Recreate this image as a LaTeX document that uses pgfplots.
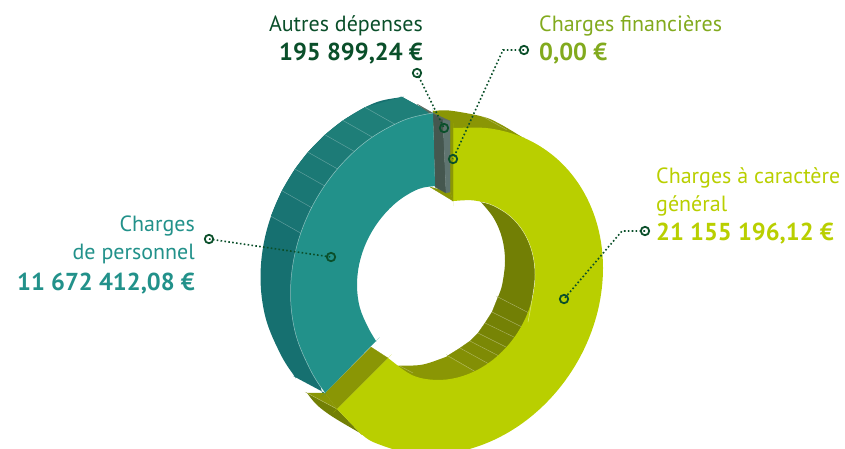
\documentclass[border=0pt]{standalone}
\usepackage{pgfplots}
\pgfplotsset{compat=1.18}
\usepackage{fontspec}
\setmainfont{PT Sans}
\definecolor{yel}{HTML}{B9CF00}
\definecolor{oliveL}{HTML}{8A9605}
\definecolor{oliveD}{HTML}{727F05}
\definecolor{teal1}{HTML}{22918A}
\definecolor{tealT}{HTML}{1F7F79}
\definecolor{tealB}{HTML}{167070}
\definecolor{dk}{HTML}{0A4F2A}
\definecolor{finc}{HTML}{82AA1E}
\definecolor{grayA}{HTML}{45574F}
\definecolor{grayB}{HTML}{5F7470}
\definecolor{grayC}{HTML}{5A6B60}
\newcommand{\poly}[2]{\addplot[fill=#1,draw=none,smooth,tension=0.6,forget plot] coordinates {#2};}
\newcommand{\quadr}[2]{\addplot[fill=#1,draw=#1,line width=0.2pt,forget plot] coordinates {#2} -- cycle;}
\newcommand{\seg}[1]{\addplot[draw=white,draw opacity=0.3,line width=0.5pt,forget plot] coordinates {#1};}
\newcommand{\edge}[1]{\addplot[draw=white,draw opacity=0.5,line width=0.5pt,smooth,tension=0.6,forget plot] coordinates {#1};}
\newcommand{\lead}[1]{\addplot[color=dk,line width=1.6pt,dash pattern=on 1.6pt off 2.3pt,forget plot] coordinates {#1};}
\newcommand{\ring}[1]{\addplot[only marks,mark=o,color=dk,mark size=4.2pt,mark options={line width=1.8pt,solid,fill=none},forget plot] coordinates {#1};}
\newcommand{\fs}{\fontsize{22}{26}\selectfont}
\newcommand{\fb}{\fontsize{24.5}{26}\selectfont\bfseries}
\newcommand{\lab}[4]{\node[anchor=base #1,inner sep=0pt,text=#2] at (axis cs:#3) {#4};}
\begin{document}
\begin{tikzpicture}[x=1pt,y=1pt]
\path[use as bounding box] (0,0) rectangle (845,448);
\begin{axis}[at={(0,0)},anchor=south west,scale only axis,width=845pt,height=448pt,
  xmin=0,xmax=845,ymin=0,ymax=448,y dir=reverse,hide axis,clip=true]
% back wall olive (top)
\poly{oliveL}{(433,111)(433,111)(433,111)(450,110.6)(483,116.7)(500,124)(522,137)(522,137)(522,137)(483,135)(453,135)(433,125)(433,125)(433,125)(433,111)(433,111)(433,111)}
\seg{(480,115)(507,130)}
% inner wall, base and bands
\poly{oliveD}{(481,202)(481,202)(481,202)(494,218.6)(502.2,238.5)(505,261)(502.2,284.5)(498,297)(498,297)(498,297)(529,313)(529,313)(529,313)(532.2,298.5)(535,275)(532.2,252.5)(523.9,232.6)(510.7,216.7)(493.5,205.7)(481,202)(481,202)(481,202)}
\quadr{oliveD}{(498,297)(529,313)(522,327)(492,312)}
\quadr{oliveD!92!oliveL}{(492,312)(522,327)(516,338)(485,323)}
\quadr{oliveD!78!oliveL}{(485,323)(516,338)(508,348)(478,333)}
\quadr{oliveD!62!oliveL}{(478,333)(508,348)(499,356)(470,341)}
\quadr{oliveD!46!oliveL}{(470,341)(499,356)(489,364)(460,348)}
\quadr{oliveD!30!oliveL}{(460,348)(489,364)(476,372)(448,355.5)}
\poly{oliveL}{(448,355.5)(448,355.5)(448,355.5)(476,372)(476,372)(476,372)(476,385)(452,385)(430,385)(396,366)(396,366)(396,366)(400.5,365.6)(422,364.7)(443.5,357.8)(448,355.5)(448,355.5)(448,355.5)}
\seg{(498,297)(529,313)}\seg{(492,312)(522,327)}\seg{(485,323)(516,338)}\seg{(478,333)(508,348)}\seg{(470,341)(499,356)}\seg{(460,348)(489,364)}\seg{(448,356)(476,372)}\seg{(398,365)(413,373)}
% teal outer wall
\poly{tealB}{(402,97)(402,97)(402,97)(433,114)(433,114)(433,114)(400,135)(340,190)(310,260)(320,380)(325,393)(325,393)(325,393)(295,377)(295,377)(295,377)(280.9,354.9)(265.7,318.2)(260.5,277)(265.7,234.2)(280.9,192.9)(305,155.8)(336.5,125.2)(373.1,103.5)(402,97)(402,97)(402,97)}
\quadr{tealT}{(402,97)(433,114)(395,124.3)(365,107.3)}
\quadr{tealT}{(365,107.3)(395,124.3)(373,137.5)(343,120.5)}
\quadr{tealT!90!tealB}{(343,120.5)(373,137.5)(355,151.8)(325,134.8)}
\quadr{tealT!75!tealB}{(325,134.8)(355,151.8)(338,169.2)(308,152.2)}
\quadr{tealT!60!tealB}{(308,152.2)(338,169.2)(325,186.1)(295,169.1)}
\quadr{tealT!45!tealB}{(295,169.1)(325,186.1)(312,207.8)(282,190.8)}
\quadr{tealT!30!tealB}{(282,190.8)(312,207.8)(301,233.3)(271,216.3)}
\seg{(365,107.3)(395,124.3)}\seg{(343,120.5)(373,137.5)}\seg{(325,134.8)(355,151.8)}\seg{(308,152.2)(338,169.2)}\seg{(295,169.1)(325,186.1)}\seg{(282,190.8)(312,207.8)}\seg{(271,216.3)(301,233.3)}
% olive wedge at the cut
\poly{oliveD}{(307,393)(307,393)(307,393)(337,409)(337,409)(337,409)(360,433)(360,433)(360,433)(333,417)(317,405)(307,393)(307,393)(307,393)}
\quadr{oliveL}{(307,393)(325,393)(337,409)}
\seg{(307,393)(337,409)}
% cut face
\quadr{oliveL}{(371,347)(388,358)(337,409)(325,393)}
% yellow face
\poly{yel}{(453,128)(453,128)(453,128)(490.4,128.5)(527,139.2)(558.5,160.2)(582.6,190.1)(597.8,226.8)(603,268)(597.8,310.8)(582.6,352.1)(558.5,389.2)(527,419.8)(490.4,441.5)(451,453)(411.6,453.5)(375,442.8)(360,433)(360,433)(360,433)(337,409)(337,409)(337,409)(388,358)(388,358)(388,358)(410.5,374.3)(430.5,379.6)(452,378.7)(473.5,371.8)(493.5,359.3)(510.7,342.1)(523.9,321.4)(532.2,298.5)(535,275)(532.2,252.5)(523.9,232.6)(510.7,216.7)(493.5,205.7)(473.5,200.4)(453,201)(453,201)(453,201)(453,128)(453,128)(453,128)}
\edge{(528,322)(532.2,298.5)(535,275)(532.2,252.5)(523.9,232.6)(510.7,216.7)(493.5,205.7)(481,202)}
% olive base under the grey slice
\quadr{oliveL}{(430,187)(450,192)(453,201)}
\quadr{oliveL}{(450,121)(453,128)(453,201)(450,192)}
% grey slice
\quadr{grayC}{(417,104)(433,113)(450,121)(443,123)}
\quadr{grayA}{(433,114)(443,120)(446,193)(435,187)}
\quadr{grayB}{(443,120)(450,121)(450,192)(446,193)}
% teal face
\poly{teal1}{(433,113)(433,113)(433,113)(403,120.5)(366.5,141.2)(335,171.8)(310.9,208.9)(295.7,250.2)(290.5,293)(295.7,334.2)(310.9,370.9)(325,393)(325,393)(325,393)(376,341)(376,341)(376,341)(368.1,327.4)(359.8,307.5)(357,285)(359.8,261.5)(368.1,238.6)(381.3,217.9)(398.5,200.7)(418.5,189)(435,186)(435,186)(435,186)(433,113)(433,113)(433,113)}
\edge{(433,113)(403,120.5)(366.5,141.2)(335,171.8)(310.9,208.9)(295.7,250.2)(290.5,293)(295.7,334.2)(310.9,370.9)(325,393)}
% leaders
\lead{(417,73)(444,128)}\ring{(417,73)(444,128)}
\lead{(524,50)(503,50)(453,159)}\ring{(524,50)(453,159)}
\lead{(645,231)(622,231)(564,299)}\ring{(645,231)(564,299)}
\lead{(209,239)(331,257)}\ring{(209,239)(331,257)}
% labels
\lab{east}{dk}{423,31}{\fs Autres dépenses}
\lab{east}{dk}{423,60}{\fb 195 899,24 €}
\lab{west}{finc}{539,31}{\fs Charges financières}
\lab{west}{finc}{539,60}{\fb 0,00 €}
\lab{west}{yel}{656,183}{\fs Charges à caractère}
\lab{west}{yel}{656,211}{\fs général}
\lab{west}{yel}{656,240}{\fb 21 155 196,12 €}
\lab{east}{teal1}{195,231}{\fs Charges}
\lab{east}{teal1}{195,259}{\fs de personnel}
\lab{east}{teal1}{195,290}{\fb 11 672 412,08 €}
\end{axis}
\end{tikzpicture}
\end{document}
